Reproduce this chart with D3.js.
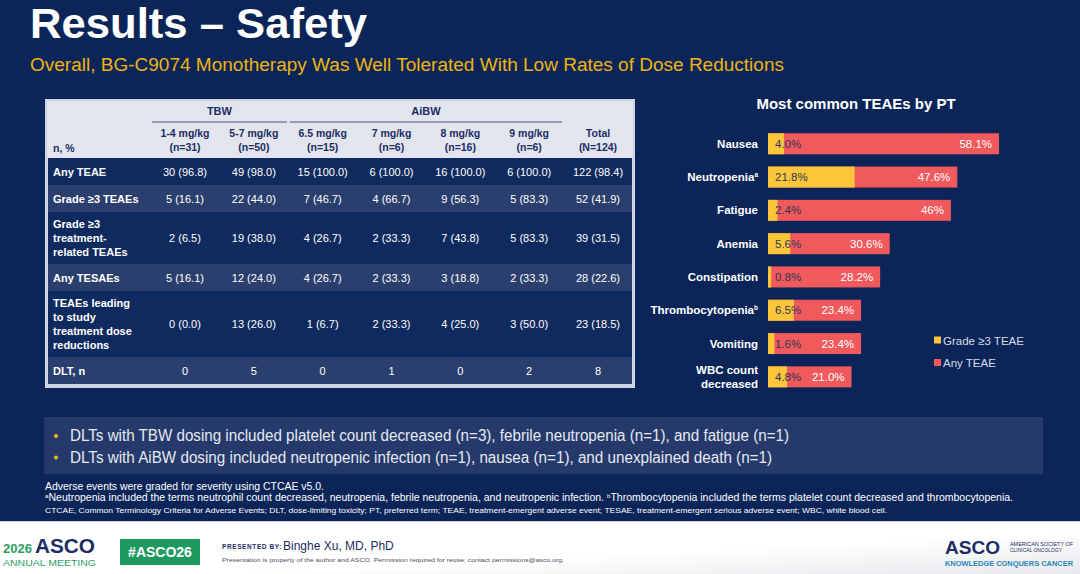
<!DOCTYPE html>
<html>
<head>
<meta charset="utf-8">
<script src="https://cdn.jsdelivr.net/npm/d3@7"></script>
<style>
  html, body { margin: 0; padding: 0; background: #0b2558; }
  svg { display: block; font-family: "Liberation Sans", Arial, sans-serif; }
</style>
</head>
<body>
<svg id="slide" width="1080" height="574"></svg>
<script>
// ---- table data ----
var colTop = ["1-4 mg/kg", "5-7 mg/kg", "6.5 mg/kg", "7 mg/kg", "8 mg/kg", "9 mg/kg", "Total"];
var colBottom = ["(n=31)", "(n=50)", "(n=15)", "(n=6)", "(n=16)", "(n=6)", "(N=124)"];
var groups = [{name: "TBW", from: 0, to: 1}, {name: "AiBW", from: 2, to: 5}];

var rowLabels = [
  ["Any TEAE"],
  ["Grade \u22653 TEAEs"],
  ["Grade \u22653", "treatment-", "related TEAEs"],
  ["Any TESAEs"],
  ["TEAEs leading", "to study", "treatment dose", "reductions"],
  ["DLT, n"]
];
var anyTeae = ["30 (96.8)", "49 (98.0)", "15 (100.0)", "6 (100.0)", "16 (100.0)", "6 (100.0)", "122 (98.4)"];
var grade3Teae = ["5 (16.1)", "22 (44.0)", "7 (46.7)", "4 (66.7)", "9 (56.3)", "5 (83.3)", "52 (41.9)"];
var grade3Related = ["2 (6.5)", "19 (38.0)", "4 (26.7)", "2 (33.3)", "7 (43.8)", "5 (83.3)", "39 (31.5)"];
var anyTesae = ["5 (16.1)", "12 (24.0)", "4 (26.7)", "2 (33.3)", "3 (18.8)", "2 (33.3)", "28 (22.6)"];
var doseReductions = ["0 (0.0)", "13 (26.0)", "1 (6.7)", "2 (33.3)", "4 (25.0)", "3 (50.0)", "23 (18.5)"];
var dltN = ["0", "5", "0", "1", "0", "2", "8"];
var rowValues = [anyTeae, grade3Teae, grade3Related, anyTesae, doseReductions, dltN];

// ---- bar chart data (% of patients) ----
var categories = ["Nausea", "Neutropenia", "Fatigue", "Anemia", "Constipation", "Thrombocytopenia", "Vomiting", "WBC count decreased"];
var catSup = ["", "a", "", "", "", "b", "", ""];
var grade3Pct = [4.0, 21.8, 2.4, 5.6, 0.8, 6.5, 1.6, 4.8];
var anyPct = [58.1, 47.6, 46, 30.6, 28.2, 23.4, 23.4, 21.0];
var grade3Labels = ["4.0%", "21.8%", "2.4%", "5.6%", "0.8%", "6.5%", "1.6%", "4.8%"];
var anyLabels = ["58.1%", "47.6%", "46%", "30.6%", "28.2%", "23.4%", "23.4%", "21.0%"];
var legendItems = ["Grade \u22653 TEAE", "Any TEAE"];

var bullets = [
  "DLTs with TBW dosing included platelet count decreased (n=3), febrile neutropenia (n=1), and fatigue (n=1)",
  "DLTs with AiBW dosing included neutropenic infection (n=1), nausea (n=1), and unexplained death (n=1)"
];

var YELLOW = "#fcc63a", RED = "#f15a5c", NAVY = "#1c2d63";

var svg = d3.select("#slide");

svg.append("rect").attr("width", 1080).attr("height", 574).attr("fill", "#0b2558");

// title
svg.append("text").attr("x", 30).attr("y", 38)
    .attr("font-size", 43).attr("font-weight", "bold").attr("fill", "#ffffff")
    .attr("textLength", 337).attr("lengthAdjust", "spacingAndGlyphs")
    .text("Results \u2013 Safety");
svg.append("text").attr("x", 30).attr("y", 71)
    .attr("font-size", 18).attr("fill", "#efb40f")
    .attr("textLength", 754).attr("lengthAdjust", "spacingAndGlyphs")
    .text("Overall, BG-C9074 Monotherapy Was Well Tolerated With Low Rates of Dose Reductions");

// ---------------- table ----------------
var tLeft = 45, tRight = 635, tTop = 99, headBottom = 158;
var col = d3.scalePoint().domain(d3.range(colTop.length)).range([185, 598]);

var rowH = rowLabels.map(function(l) { return Math.max(27, 10 + 14 * l.length); });
var rowY = [];
var acc = headBottom;
rowH.forEach(function(h) { rowY.push(acc); acc += h; });
var bodyBottom = acc;

var table = svg.append("g");
table.append("rect")
    .attr("x", tLeft).attr("y", tTop).attr("width", tRight - tLeft).attr("height", bodyBottom + 4 - tTop)
    .attr("fill", "#cfd4e2");
table.append("rect")
    .attr("x", tLeft + 2).attr("y", tTop + 2).attr("width", tRight - tLeft - 4).attr("height", headBottom - tTop - 2)
    .attr("fill", "#e2e5ee");

// groups
groups.forEach(function(g) {
  var x0 = col(g.from) - 33, x1 = col(g.to) + 33;
  table.append("text").attr("x", (col(g.from) + col(g.to)) / 2).attr("y", 115)
      .attr("text-anchor", "middle").attr("font-size", 11).attr("font-weight", "bold").attr("fill", NAVY)
      .text(g.name);
  table.append("line").attr("x1", x0).attr("x2", x1).attr("y1", 122).attr("y2", 122)
      .attr("stroke", "#7c84a0").attr("stroke-width", 1.6);
});

table.selectAll(".colhead").data(colTop).enter().append("text")
    .attr("x", function(d, i) { return col(i); }).attr("y", 137)
    .attr("text-anchor", "middle").attr("font-size", 10.5).attr("font-weight", "bold").attr("fill", NAVY)
    .text(function(d) { return d; });
table.selectAll(".colsub").data(colBottom).enter().append("text")
    .attr("x", function(d, i) { return col(i); }).attr("y", 151)
    .attr("text-anchor", "middle").attr("font-size", 10.5).attr("font-weight", "bold").attr("fill", NAVY)
    .text(function(d) { return d; });
table.append("text").attr("x", 53).attr("y", 152)
    .attr("font-size", 10.5).attr("font-weight", "bold").attr("fill", NAVY).text("n, %");

rowLabels.forEach(function(lines, r) {
  var y0 = rowY[r], h = rowH[r];
  table.append("rect").attr("x", tLeft + 3).attr("y", y0).attr("width", tRight - tLeft - 6).attr("height", h)
      .attr("fill", r % 2 === 0 ? "#0f2a5e" : "#2b3f6e");
  var cy = y0 + h / 2;
  var first = cy - (lines.length - 1) * 14 / 2;
  lines.forEach(function(line, k) {
    table.append("text").attr("x", 53).attr("y", first + k * 14 + 4)
        .attr("font-size", 11).attr("font-weight", "bold").attr("fill", "#ffffff").text(line);
  });
  rowValues[r].forEach(function(v, c) {
    table.append("text").attr("x", col(c)).attr("y", cy + 4)
        .attr("text-anchor", "middle").attr("font-size", 11).attr("fill", "#ffffff").text(v);
  });
});

// ---------------- bar chart ----------------
var chart = svg.append("g");
chart.append("text").attr("x", 856).attr("y", 109)
    .attr("text-anchor", "middle").attr("font-size", 15).attr("font-weight", "bold").attr("fill", "#ffffff")
    .text("Most common TEAEs by PT");

var x = d3.scaleLinear().domain([0, 60]).range([768, 1006.6]);
var y = d3.scaleBand().domain(categories).range([127.1, 393.5]).paddingInner(0.37).paddingOuter(0.185);

chart.selectAll(".any").data(categories).enter().append("rect")
    .attr("x", x(0)).attr("y", function(d) { return y(d); })
    .attr("width", function(d, i) { return x(anyPct[i]) - x(0); })
    .attr("height", y.bandwidth()).attr("fill", RED);
chart.selectAll(".g3").data(categories).enter().append("rect")
    .attr("x", x(0)).attr("y", function(d) { return y(d); })
    .attr("width", function(d, i) { return x(grade3Pct[i]) - x(0); })
    .attr("height", y.bandwidth()).attr("fill", YELLOW);

chart.selectAll(".g3lab").data(categories).enter().append("text")
    .attr("x", x(0) + 7).attr("y", function(d) { return y(d) + y.bandwidth() / 2 + 4; })
    .attr("font-size", 11.5).attr("fill", "#2d3657")
    .text(function(d, i) { return grade3Labels[i]; });
chart.selectAll(".anylab").data(categories).enter().append("text")
    .attr("x", function(d, i) { return x(anyPct[i]) - 7; })
    .attr("y", function(d) { return y(d) + y.bandwidth() / 2 + 4; })
    .attr("text-anchor", "end").attr("font-size", 11.5).attr("fill", "#ffffff")
    .text(function(d, i) { return anyLabels[i]; });

// category labels
categories.forEach(function(c, i) {
  var cy = y(c) + y.bandwidth() / 2;
  if (c === "WBC count decreased") {
    ["WBC count", "decreased"].forEach(function(l, k) {
      chart.append("text").attr("x", 758).attr("y", cy - 3 + k * 14)
          .attr("text-anchor", "end").attr("font-size", 11.5).attr("font-weight", "bold").attr("fill", "#ffffff")
          .text(l);
    });
    return;
  }
  var t = chart.append("text").attr("x", 758).attr("y", cy + 4)
      .attr("text-anchor", "end").attr("font-size", 11.5).attr("font-weight", "bold").attr("fill", "#ffffff");
  t.append("tspan").text(c);
  if (catSup[i]) t.append("tspan").attr("font-size", 6.5).attr("dy", -4).text(catSup[i]);
});

// legend
var legendColors = [YELLOW, RED];
legendItems.forEach(function(l, i) {
  var ly = 340 + i * 22.5;
  chart.append("rect").attr("x", 934).attr("y", ly - 3.5).attr("width", 7).attr("height", 7).attr("fill", legendColors[i]);
  chart.append("text").attr("x", 943).attr("y", ly + 4.5)
      .attr("font-size", 11.5).attr("fill", "#d8dce8").text(l);
});

// ---------------- bullet box ----------------
svg.append("rect").attr("x", 44).attr("y", 417).attr("width", 999).attr("height", 57).attr("fill", "#253a6b");
var bulletLen = [719, 702];
bullets.forEach(function(b, i) {
  var by = 441 + i * 21.5;
  svg.append("circle").attr("cx", 56).attr("cy", by - 5).attr("r", 2).attr("fill", "#f2b90f");
  svg.append("text").attr("x", 70).attr("y", by)
      .attr("font-size", 16).attr("fill", "#e6e9f1")
      .attr("textLength", bulletLen[i]).attr("lengthAdjust", "spacingAndGlyphs")
      .text(b);
});

// footnotes
var foot = svg.append("g").attr("fill", "#ffffff");
foot.append("text").attr("x", 45).attr("y", 489.5).attr("font-size", 10)
    .attr("textLength", 279).attr("lengthAdjust", "spacingAndGlyphs")
    .text("Adverse events were graded for severity using CTCAE v5.0.");
var fn2 = foot.append("text").attr("x", 45).attr("y", 500.5).attr("font-size", 10)
    .attr("textLength", 968).attr("lengthAdjust", "spacingAndGlyphs");
fn2.append("tspan").attr("font-size", 6).attr("dy", -3).text("a");
fn2.append("tspan").attr("dy", 3).text("Neutropenia included the terms neutrophil count decreased, neutropenia, febrile neutropenia, and neutropenic infection. ");
fn2.append("tspan").attr("font-size", 6).attr("dy", -3).text("b");
fn2.append("tspan").attr("dy", 3).text("Thrombocytopenia included the terms platelet count decreased and thrombocytopenia.");
foot.append("text").attr("x", 45).attr("y", 513).attr("font-size", 8)
    .attr("textLength", 842).attr("lengthAdjust", "spacingAndGlyphs")
    .text("CTCAE, Common Terminology Criteria for Adverse Events; DLT, dose-limiting toxicity; PT, preferred term; TEAE, treatment-emergent adverse event; TESAE, treatment-emergent serious adverse event; WBC, white blood cell.");

// ---------------- footer ----------------
var grad = svg.append("defs").append("linearGradient").attr("id", "footGrad")
    .attr("x1", "0").attr("x2", "1").attr("y1", "0").attr("y2", "1");
grad.append("stop").attr("offset", "0.6").attr("stop-color", "#ffffff");
grad.append("stop").attr("offset", "1").attr("stop-color", "#e6e8ec");
svg.append("rect").attr("x", 0).attr("y", 521).attr("width", 1080).attr("height", 53).attr("fill", "url(#footGrad)");
svg.append("line").attr("x1", 0).attr("x2", 1080).attr("y1", 521.5).attr("y2", 521.5).attr("stroke", "#c9cede");

var GREEN = "#2e9e62";
svg.append("text").attr("x", 3).attr("y", 553).attr("font-size", 13).attr("font-weight", "bold").attr("fill", GREEN)
    .attr("textLength", 29).attr("lengthAdjust", "spacingAndGlyphs").text("2026");
svg.append("text").attr("x", 35).attr("y", 553).attr("font-size", 20).attr("font-weight", "bold").attr("fill", NAVY)
    .attr("textLength", 60).attr("lengthAdjust", "spacingAndGlyphs").text("ASCO");
svg.append("text").attr("x", 3).attr("y", 566).attr("font-size", 9).attr("fill", GREEN)
    .attr("textLength", 93).attr("lengthAdjust", "spacingAndGlyphs").text("ANNUAL MEETING");

svg.append("rect").attr("x", 120).attr("y", 539).attr("width", 80).attr("height", 26).attr("fill", "#1f9a5f");
svg.append("text").attr("x", 160).attr("y", 557).attr("text-anchor", "middle")
    .attr("font-size", 14).attr("font-weight", "bold").attr("fill", "#ffffff").text("#ASCO26");

svg.append("text").attr("x", 222).attr("y", 549).attr("font-size", 6.5).attr("font-weight", "bold").attr("fill", NAVY)
    .attr("letter-spacing", 0.6).text("PRESENTED BY:");
svg.append("text").attr("x", 283).attr("y", 550).attr("font-size", 12).attr("fill", NAVY).text("Binghe Xu, MD, PhD");
svg.append("text").attr("x", 222).attr("y", 562).attr("font-size", 6).attr("fill", "#4a4f60")
    .attr("textLength", 342).attr("lengthAdjust", "spacingAndGlyphs")
    .text("Presentation is property of the author and ASCO. Permission required for reuse; contact permissions@asco.org.");

svg.append("text").attr("x", 945).attr("y", 554).attr("font-size", 19).attr("font-weight", "bold").attr("fill", NAVY)
    .attr("textLength", 55).attr("lengthAdjust", "spacingAndGlyphs").text("ASCO");
svg.append("text").attr("x", 1010).attr("y", 546).attr("font-size", 5.5).attr("fill", NAVY)
    .attr("textLength", 63).attr("lengthAdjust", "spacingAndGlyphs").text("AMERICAN SOCIETY OF");
svg.append("text").attr("x", 1010).attr("y", 552).attr("font-size", 5.5).attr("fill", NAVY)
    .attr("textLength", 52).attr("lengthAdjust", "spacingAndGlyphs").text("CLINICAL ONCOLOGY");
svg.append("text").attr("x", 945).attr("y", 566).attr("font-size", 7).attr("font-weight", "bold").attr("fill", "#2a86b8")
    .attr("textLength", 128).attr("lengthAdjust", "spacingAndGlyphs").text("KNOWLEDGE CONQUERS CANCER");
</script>
</body>
</html>
